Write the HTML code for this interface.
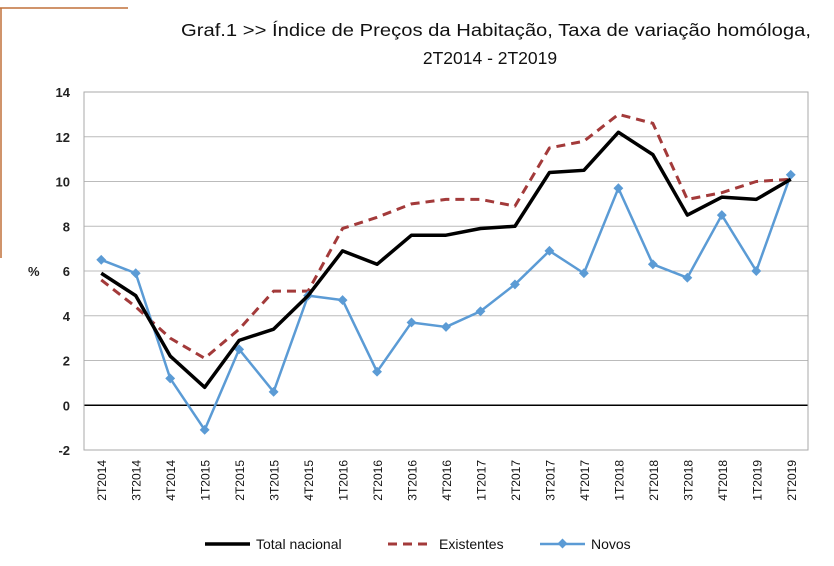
<!DOCTYPE html>
<html><head><meta charset="utf-8"><style>
body{margin:0;background:#fff;width:834px;height:561px;overflow:hidden;font-family:"Liberation Sans",sans-serif}
</style></head><body>
<svg id="chart" width="834" height="561" xmlns="http://www.w3.org/2000/svg">
<line x1="0" y1="8" x2="128" y2="8" stroke="#c0703a" stroke-width="1.5"/>
<line x1="1" y1="8" x2="1" y2="258" stroke="#c0703a" stroke-width="1.5"/>
<text x="496" y="36" text-anchor="middle" font-size="17.5" fill="#111" textLength="630" lengthAdjust="spacingAndGlyphs">Graf.1  &gt;&gt;  Índice de Preços da Habitação, Taxa de variação homóloga,</text>
<text x="490" y="64" text-anchor="middle" font-size="17.5" fill="#111">2T2014 - 2T2019</text>
<text x="28" y="276" font-size="13" font-weight="bold" fill="#222">%</text>
<g id="grid"></g><g id="series"></g><g id="legend"></g>
</svg>
<script>
const categories=["2T2014","3T2014","4T2014","1T2015","2T2015","3T2015","4T2015","1T2016","2T2016","3T2016","4T2016","1T2017","2T2017","3T2017","4T2017","1T2018","2T2018","3T2018","4T2018","1T2019","2T2019"];
const totalNacional=[5.9,4.9,2.2,0.8,2.9,3.4,4.9,6.9,6.3,7.6,7.6,7.9,8.0,10.4,10.5,12.2,11.2,8.5,9.3,9.2,10.1];
const existentes=[5.6,4.4,3.0,2.1,3.4,5.1,5.1,7.9,8.4,9.0,9.2,9.2,8.9,11.5,11.8,13.0,12.6,9.2,9.5,10.0,10.1];
const novos=[6.5,5.9,1.2,-1.1,2.5,0.6,4.9,4.7,1.5,3.7,3.5,4.2,5.4,6.9,5.9,9.7,6.3,5.7,8.5,6.0,10.3];
const yTicks=[-2,0,2,4,6,8,10,12,14];
const NS="http://www.w3.org/2000/svg";
const L=84,R=808,T=92,B=450,yMin=-2,yMax=14;
const bw=(R-L)/categories.length;
function x(i){return L+bw*(i+0.5);}
function y(v){return B-(v-yMin)/(yMax-yMin)*(B-T);}
function mk(tag,attrs,parent){const e=document.createElementNS(NS,tag);for(const k in attrs)e.setAttribute(k,attrs[k]);parent.appendChild(e);return e;}
const grid=document.getElementById('grid');
yTicks.forEach(v=>{
  const ln=mk('line',{x1:L,x2:R,y1:y(v),y2:y(v),stroke:v===0?'#000':'#bbb','stroke-width':v===0?1.5:1},grid);
  
  
  const t=mk('text',{x:L-14,y:y(v)+5,'text-anchor':'end','font-size':13,'font-weight':'bold',fill:'#222'},grid);
  t.textContent=v;
  
  
});
const fr=mk('rect',{x:L,y:T,width:R-L,height:B-T,fill:'none',stroke:'#aaa'},grid);


categories.forEach((c,i)=>{
  const t=mk('text',{transform:`translate(${x(i)+5},${B+10}) rotate(-90)`,'text-anchor':'end','font-size':12,fill:'#111'},grid);
  t.textContent=c;
  
  
});
const sg=document.getElementById('series');
function line(data,color,w,dash,name){
  const p=mk('polyline',{points:data.map((v,i)=>x(i)+','+y(v)).join(' '),fill:'none',stroke:color,'stroke-width':w,'stroke-dasharray':dash,'stroke-linejoin':'round'},sg);
  
  
}
line(existentes,'#a33a3a',3,'9,6','existentes-line');
line(novos,'#5b9bd5',2.5,'none','novos-line');
novos.forEach((v,i)=>{
  const m=mk('rect',{x:x(i)-3.5,y:y(v)-3.5,width:7,height:7,fill:'#5b9bd5',transform:`rotate(45 ${x(i)} ${y(v)})`},sg);
  
  
});
line(totalNacional,'#000',3.5,'none','total-nacional-line');
const lg=document.getElementById('legend');
const items=[['Total nacional','#000','none',false,205,3.5],['Existentes','#a33a3a','9,6',false,388,3],['Novos','#5b9bd5','none',true,540,2.5]];
items.forEach(([n,c,d,mark,lx,w])=>{
  const g=mk('g',{},lg);
  
  
  mk('line',{x1:lx,x2:lx+45,y1:544,y2:544,stroke:c,'stroke-width':w,'stroke-dasharray':d},g);
  if(mark)mk('rect',{x:lx+19,y:540,width:7,height:7,fill:c,transform:`rotate(45 ${lx+22.5} 543.5)`},g);
  const t=mk('text',{x:lx+51,y:549,'font-size':14,fill:'#111'},g);
  t.textContent=n;
});
</script>
</body></html>
